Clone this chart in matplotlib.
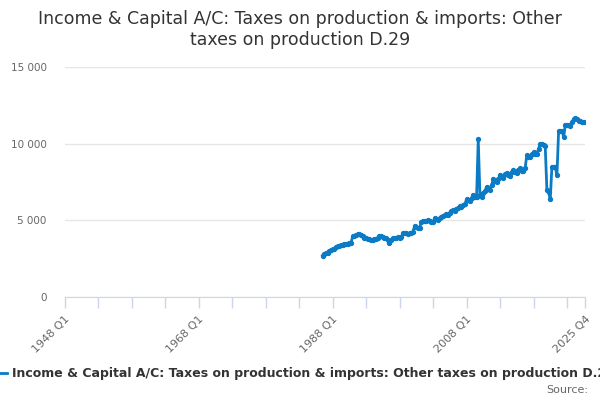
import numpy as np
import pandas as pd
import matplotlib.pyplot as plt

# quarterly values, 1986 Q3 .. 2025 Q3 (£ million)
first_quarter = '1986Q3'
values = [
    2700, 2780,
    2850, 2900, 2980, 3060,   # 1987
    3100, 3150, 3250, 3300,   # 1988
    3330, 3380, 3420, 3480,   # 1989
    3460, 3480, 3500, 3520,   # 1990
    3950, 4000, 4050, 4080,   # 1991
    4090, 4060, 3980, 3880,   # 1992
    3830, 3800, 3780, 3750,   # 1993
    3720, 3760, 3800, 3850,   # 1994
    4000, 3950, 3900, 3830,   # 1995
    3830, 3700, 3540, 3700,   # 1996
    3830, 3850, 3880, 3890,   # 1997
    3880, 3900, 4150, 4150,   # 1998
    4150, 4100, 4150, 4200,   # 1999
    4250, 4630, 4550, 4480,   # 2000
    4480, 4910, 4950, 4970,   # 2001
    4970, 5020, 4950, 4910,   # 2002
    4910, 5130, 5100, 5050,   # 2003
    5130, 5200, 5300, 5350,   # 2004
    5410, 5350, 5500, 5600,   # 2005
    5670, 5600, 5750, 5800,   # 2006
    5930, 5850, 6000, 6050,   # 2007
    6370, 6300, 6250, 6450,   # 2008
    6650, 6550, 6500, 10280,  # 2009
    6650, 6550, 6800, 6900,   # 2010
    7190, 7050, 7000, 7300,   # 2011
    7670, 7550, 7500, 7700,   # 2012
    7950, 7800, 7750, 8000,   # 2013
    8100, 7950, 7900, 8150,   # 2014
    8280, 8150, 8100, 8300,   # 2015
    8390, 8250, 8200, 8400,   # 2016
    9260, 9150, 9100, 9300,   # 2017
    9430, 9300, 9350, 9650,   # 2018
    10000, 9980, 9900, 9820,  # 2019
    6980, 6870, 6370, 8500,   # 2020
    8480, 8460, 7950, 10840,  # 2021
    10840, 10820, 10450, 11210,  # 2022
    11220, 11250, 11150, 11430,  # 2023
    11590, 11650, 11600, 11500,  # 2024
    11480, 11430, 11400,         # 2025
]

tick_labels = ['1948 Q1', '1968 Q1', '1988 Q1', '2008 Q1', '2025 Q4']
y_ticks = [0, 5000, 10000, 15000]

title = 'Income & Capital A/C: Taxes on production & imports: Other\ntaxes on production D.29'
series_name = 'Income & Capital A/C: Taxes on production & imports: Other taxes on production D.29'

quarters = pd.period_range(first_quarter, periods=len(values), freq='Q')
x = quarters.year + (quarters.quarter - 1) / 4

blue = '#0a7bc4'
axis_col = '#ccd6eb'

fig = plt.figure(figsize=(6, 4), dpi=100)
ax = fig.add_axes([0.1077, 0.2575, 0.868, 0.575])

ax.plot(x, values, color=blue, lw=2, marker='o', ms=2.8, zorder=3)

ax.set_xlim(1948, 2025.75)
ax.set_ylim(0, 15000)

# ticks every 5 years, labels only on a few
minor = list(np.arange(1948, 2025, 5)) + [2025.75]
ax.set_xticks(minor)
lab = {1948: tick_labels[0], 1968: tick_labels[1], 1988: tick_labels[2],
       2008: tick_labels[3], 2025.75: tick_labels[4]}
ax.set_xticklabels([lab.get(t, '') for t in minor], rotation=45, ha='right',
                   rotation_mode='anchor', fontsize=8, color='#666666')
ax.tick_params(axis='x', length=8, width=1, color=axis_col, pad=4)

ax.set_yticks(y_ticks)
ax.set_yticklabels([f'{v:,}'.replace(',', ' ') for v in y_ticks], fontsize=7.5, color='#666666')
ax.tick_params(axis='y', length=0, pad=13)
ax.grid(axis='y', color='#e6e6e6', lw=1)
ax.set_axisbelow(True)

for s in ['top', 'right', 'left']:
    ax.spines[s].set_visible(False)
ax.spines['bottom'].set_color(axis_col)

fig.text(0.5, 0.926, title, ha='center', va='center', fontsize=12.5,
         color='#333333', linespacing=1.25)

# legend at bottom, runs off the right edge like the original
fig.add_artist(plt.Line2D([0, 0.012], [0.0675, 0.0675], color=blue, lw=2))
fig.text(0.02, 0.0675, series_name, ha='left', va='center', fontsize=9,
         fontweight='bold', color='#333333')
fig.text(0.98, 0.025, 'Source:', ha='right', va='center', fontsize=8, color='#666666')

fig.savefig('out.png', dpi=100)
